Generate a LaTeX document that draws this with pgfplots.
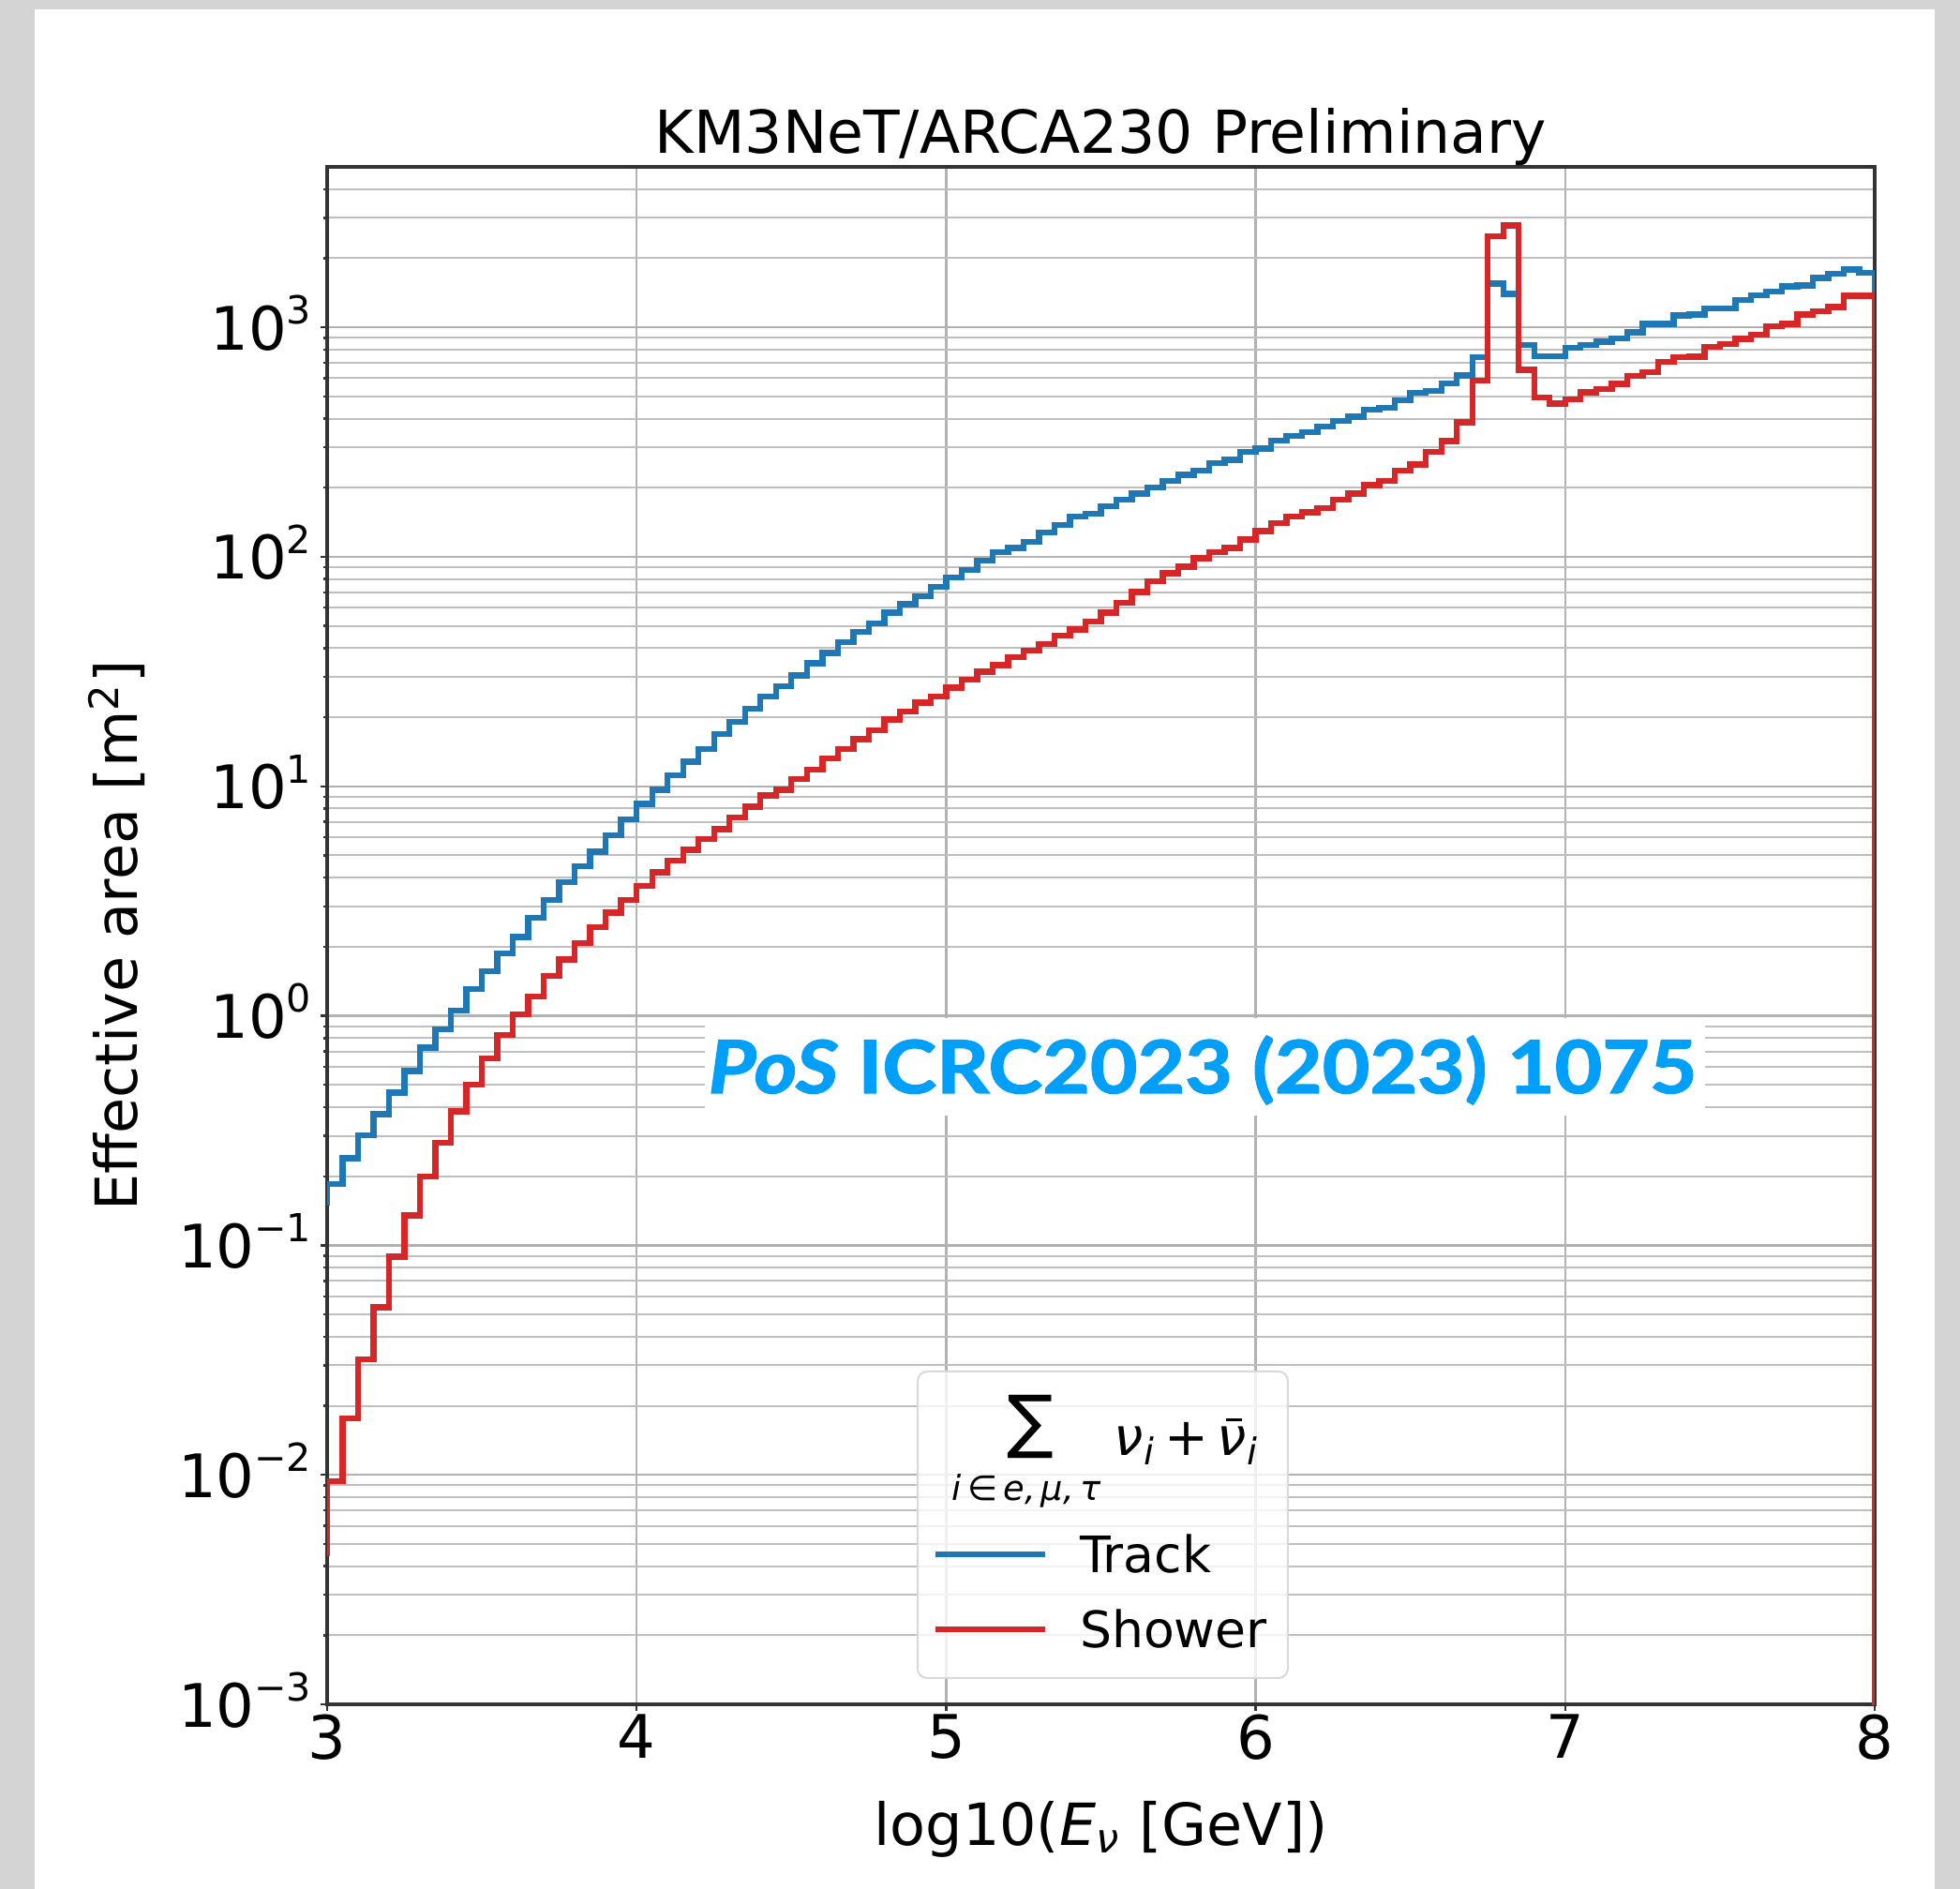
\documentclass[border=0pt]{standalone}
\usepackage{fontspec}
\setmainfont{DejaVu Sans}
\newfontfamily\wmfont{Lato}[BoldFeatures={FakeBold=1.6}, BoldItalicFeatures={FakeBold=1.6}]
\usepackage{pgfplots}
\usepackage{graphicx}
\pgfplotsset{compat=1.18}
\definecolor{tabblue}{HTML}{1F77B4}
\definecolor{tabred}{HTML}{D62728}
\definecolor{wmblue}{RGB}{0,160,250}
\definecolor{bggray}{RGB}{212,212,212}
\newcommand\sups[1]{\raisebox{6.9pt}{\fontsize{10.3}{12}\selectfont #1}}
\newcommand\nubar{\ooalign{ν\cr\kern0.17em\raisebox{0.66em}{\rule{0.30em}{0.06em}}\cr}}

\pgfplotstableread{
x y
3.00 0.149
3.00 0.185
3.05 0.240
3.10 0.302
3.15 0.373
3.20 0.463
3.25 0.575
3.30 0.728
3.35 0.871
3.40 1.052
3.45 1.306
3.50 1.563
3.55 1.871
3.60 2.208
3.65 2.667
3.70 3.192
3.75 3.819
3.80 4.498
3.85 5.188
3.90 6.109
3.95 7.178
4.00 8.395
4.05 9.64
4.10 11.14
4.15 12.82
4.20 14.55
4.25 16.87
4.30 19.14
4.35 21.73
4.40 24.60
4.45 27.35
4.50 30.41
4.55 34.43
4.60 38.19
4.65 42.46
4.70 47.21
4.75 51.29
4.80 57.02
4.85 62.09
4.90 67.45
4.95 74.13
5.00 81.47
5.05 87.50
5.10 96.38
5.15 104.7
5.20 109.4
5.25 116.4
5.30 127.6
5.35 137.7
5.40 149.6
5.45 154.2
5.50 166.3
5.55 177.0
5.60 188.8
5.65 200.9
5.70 213.8
5.75 228.0
5.80 237.7
5.85 256.4
5.90 264.2
5.95 287.1
6.00 295.8
6.05 321.4
6.10 335.7
6.15 349.9
6.20 369.8
6.25 389.9
6.30 407.4
6.35 437.5
6.40 446.7
6.45 482.0
6.50 517.6
6.55 528.4
6.60 570.2
6.65 616.6
6.70 739.6
6.75 1549
6.80 1400
6.85 837.5
6.90 748.2
6.95 748.2
7.00 814.7
7.05 837.5
7.10 867.0
7.15 893.3
7.20 950.6
7.25 1035
7.30 1035
7.35 1125
7.40 1135
7.45 1208
7.50 1208
7.55 1315
7.60 1377
7.65 1435
7.70 1510
7.75 1524
7.80 1641
7.85 1710
7.90 1786
7.95 1726
8.00 1726
8.00 0.000001
}\track

\pgfplotstableread{
x y
3.00 0.00443
3.00 0.00938
3.05 0.01766
3.10 0.03184
3.15 0.0537
3.20 0.0891
3.25 0.1349
3.30 0.1995
3.35 0.280
3.40 0.384
3.45 0.501
3.50 0.653
3.55 0.826
3.60 1.014
3.65 1.213
3.70 1.496
3.75 1.762
3.80 2.070
3.85 2.432
3.90 2.812
3.95 3.192
4.00 3.690
4.05 4.227
4.10 4.742
4.15 5.284
4.20 5.888
4.25 6.516
4.30 7.311
4.35 8.147
4.40 9.141
4.45 9.66
4.50 10.76
4.55 11.80
4.60 13.21
4.65 14.55
4.70 16.03
4.75 17.58
4.80 19.54
4.85 21.23
4.90 23.12
4.95 24.55
5.00 26.92
5.05 29.11
5.10 31.62
5.15 33.73
5.20 36.64
5.25 39.08
5.30 41.59
5.35 45.29
5.40 48.19
5.45 52.36
5.50 57.02
5.55 63.10
5.60 70.31
5.65 78.16
5.70 84.92
5.75 90.57
5.80 98.40
5.85 104.7
5.90 109.4
5.95 118.9
6.00 129.4
6.05 140.6
6.10 149.6
6.15 156.3
6.20 162.9
6.25 177.0
6.30 188.8
6.35 205.1
6.40 213.8
6.45 237.7
6.50 252.9
6.55 287.1
6.60 319.2
6.65 385.5
6.70 586.1
6.75 2500
6.80 2773
6.85 651.6
6.90 495.5
6.95 465.6
7.00 485.3
7.05 521.2
7.10 539.5
7.15 567.5
7.20 612.4
7.25 638.3
7.30 707.9
7.35 739.6
7.40 744.7
7.45 820.4
7.50 845.3
7.55 891.3
7.60 931.1
7.65 1012
7.70 1035
7.75 1135
7.80 1172
7.85 1225
7.90 1371
7.95 1371
8.00 1371
8.00 0.000001
}\shower

\begin{document}
\begin{tikzpicture}
\useasboundingbox (0,0) rectangle (522.75pt,-503.75pt);
\fill[bggray] (0,0) rectangle (522.75pt,-503.75pt);
\fill[white] (9.25pt,-2.5pt) rectangle (516pt,-503.75pt);
\begin{axis}[
  at={(87.25pt,-454.5pt)}, anchor=south west,
  scale only axis, width=412.75pt, height=410pt,
  ymode=log, xmin=3, xmax=8, ymin=1e-3, ymax=5000,
  xtick={3,4,5,6,7,8}, xticklabels={3,4,5,6,7,8},
  ytick={1e-3,1e-2,1e-1,1,10,100,1000},
  yticklabels={10\sups{−3},10\sups{−2},10\sups{−1},10\sups{0},10\sups{1},10\sups{2},10\sups{3}},
  minor ytick={2e-3,3e-3,4e-3,5e-3,6e-3,7e-3,8e-3,9e-3,
    2e-2,3e-2,4e-2,5e-2,6e-2,7e-2,8e-2,9e-2,
    0.2,0.3,0.4,0.5,0.6,0.7,0.8,0.9,
    2,3,4,5,6,7,8,9,
    20,30,40,50,60,70,80,90,
    200,300,400,500,600,700,800,900,
    2000,3000,4000},
  xtick pos=left, ytick pos=left,
  tick align=outside,
  major tick length=1.75pt, minor tick length=1pt,
  tick style={black!80, line width=0.6pt},
  axis line style={black!80, line width=0.8pt},
  grid=both,
  major grid style={black!30, line width=0.6pt},
  minor grid style={black!25, line width=0.5pt},
  xticklabel style={font=\fontsize{16}{19}\selectfont, inner sep=0pt, anchor=north, yshift=-0.75pt},
  yticklabel style={font=\fontsize{16}{19}\selectfont, inner sep=0pt, anchor=base east, yshift=-6pt, xshift=-2.25pt},
  title={KM3NeT/ARCA230 Preliminary},
  every axis title/.style={at={(axis description cs:0.5,1)}, anchor=base, yshift=3.75pt, inner sep=0pt, font=\fontsize{15.8}{18}\selectfont},
  xlabel={log10(\textit{E}\textsubscript{\textit{ν}} [GeV])},
  every axis x label/.style={at={(axis description cs:0.5,0)}, anchor=base, yshift=-37.5pt, inner sep=0pt, font=\fontsize{15.5}{18}\selectfont},
  ylabel={Effective area [m\textsuperscript{2}]},
  every axis y label/.style={at={(axis description cs:0,0.5)}, xshift=-50.5pt, rotate=90, anchor=base, inner sep=0pt, font=\fontsize{15.5}{18}\selectfont},
  legend style={draw=none, fill=none, at={(axis description cs:0.3913,0.1098)}, anchor=north west,
    inner sep=0pt, outer sep=0pt, column sep=8.3pt, row sep=7pt,
    font=\fontsize{13.4}{16}\selectfont,
    nodes={inner sep=0pt, text height=10pt, text depth=3pt}},
  legend cell align=left,
  legend image code/.code={\draw[#1,line width=1.7pt] (0pt,1.5pt) -- (29.25pt,1.5pt);},
]
% legend frame and title
\draw[draw=black!15, fill=white, fill opacity=0.8, rounded corners=2.5pt, line width=0.5pt]
  (rel axis cs:0.3816,0.0171) rectangle (rel axis cs:0.6208,0.2165);
\node[anchor=center, inner sep=0pt] at (rel axis cs:0.4543,0.1805) {\fontsize{18.5}{20}\selectfont ∑};
\node[anchor=base, inner sep=0pt] at (rel axis cs:0.4519,0.1329) {\fontsize{9.2}{11}\selectfont\itshape i\,{\upshape ∈}\,e,\,μ,\,τ};
\node[anchor=base west, inner sep=0pt] at (rel axis cs:0.5082,0.1616) {\fontsize{14}{17}\selectfont\itshape ν\textsubscript{i}\hspace{0.17em}{\upshape +}\hspace{0.17em}\nubar\textsubscript{i}};

\addplot[const plot, color=tabblue, line width=1.6pt] table[x=x,y=y] {\track};
\addlegendentry{Track}
\addplot[const plot, color=tabred, line width=1.6pt] table[x=x,y=y] {\shower};
\addlegendentry{Shower}

% watermark
\fill[white] (rel axis cs:0.2441,0.3829) rectangle (rel axis cs:0.8904,0.4463);
\node[anchor=base west, inner sep=0pt, text=wmblue] at (rel axis cs:0.2459,0.3976)
  {\scalebox{1.12}[1]{\wmfont\bfseries\fontsize{19.5}{22}\selectfont\textit{PoS} ICRC2023 (2023) 1075}};
\end{axis}
\end{tikzpicture}
\end{document}
